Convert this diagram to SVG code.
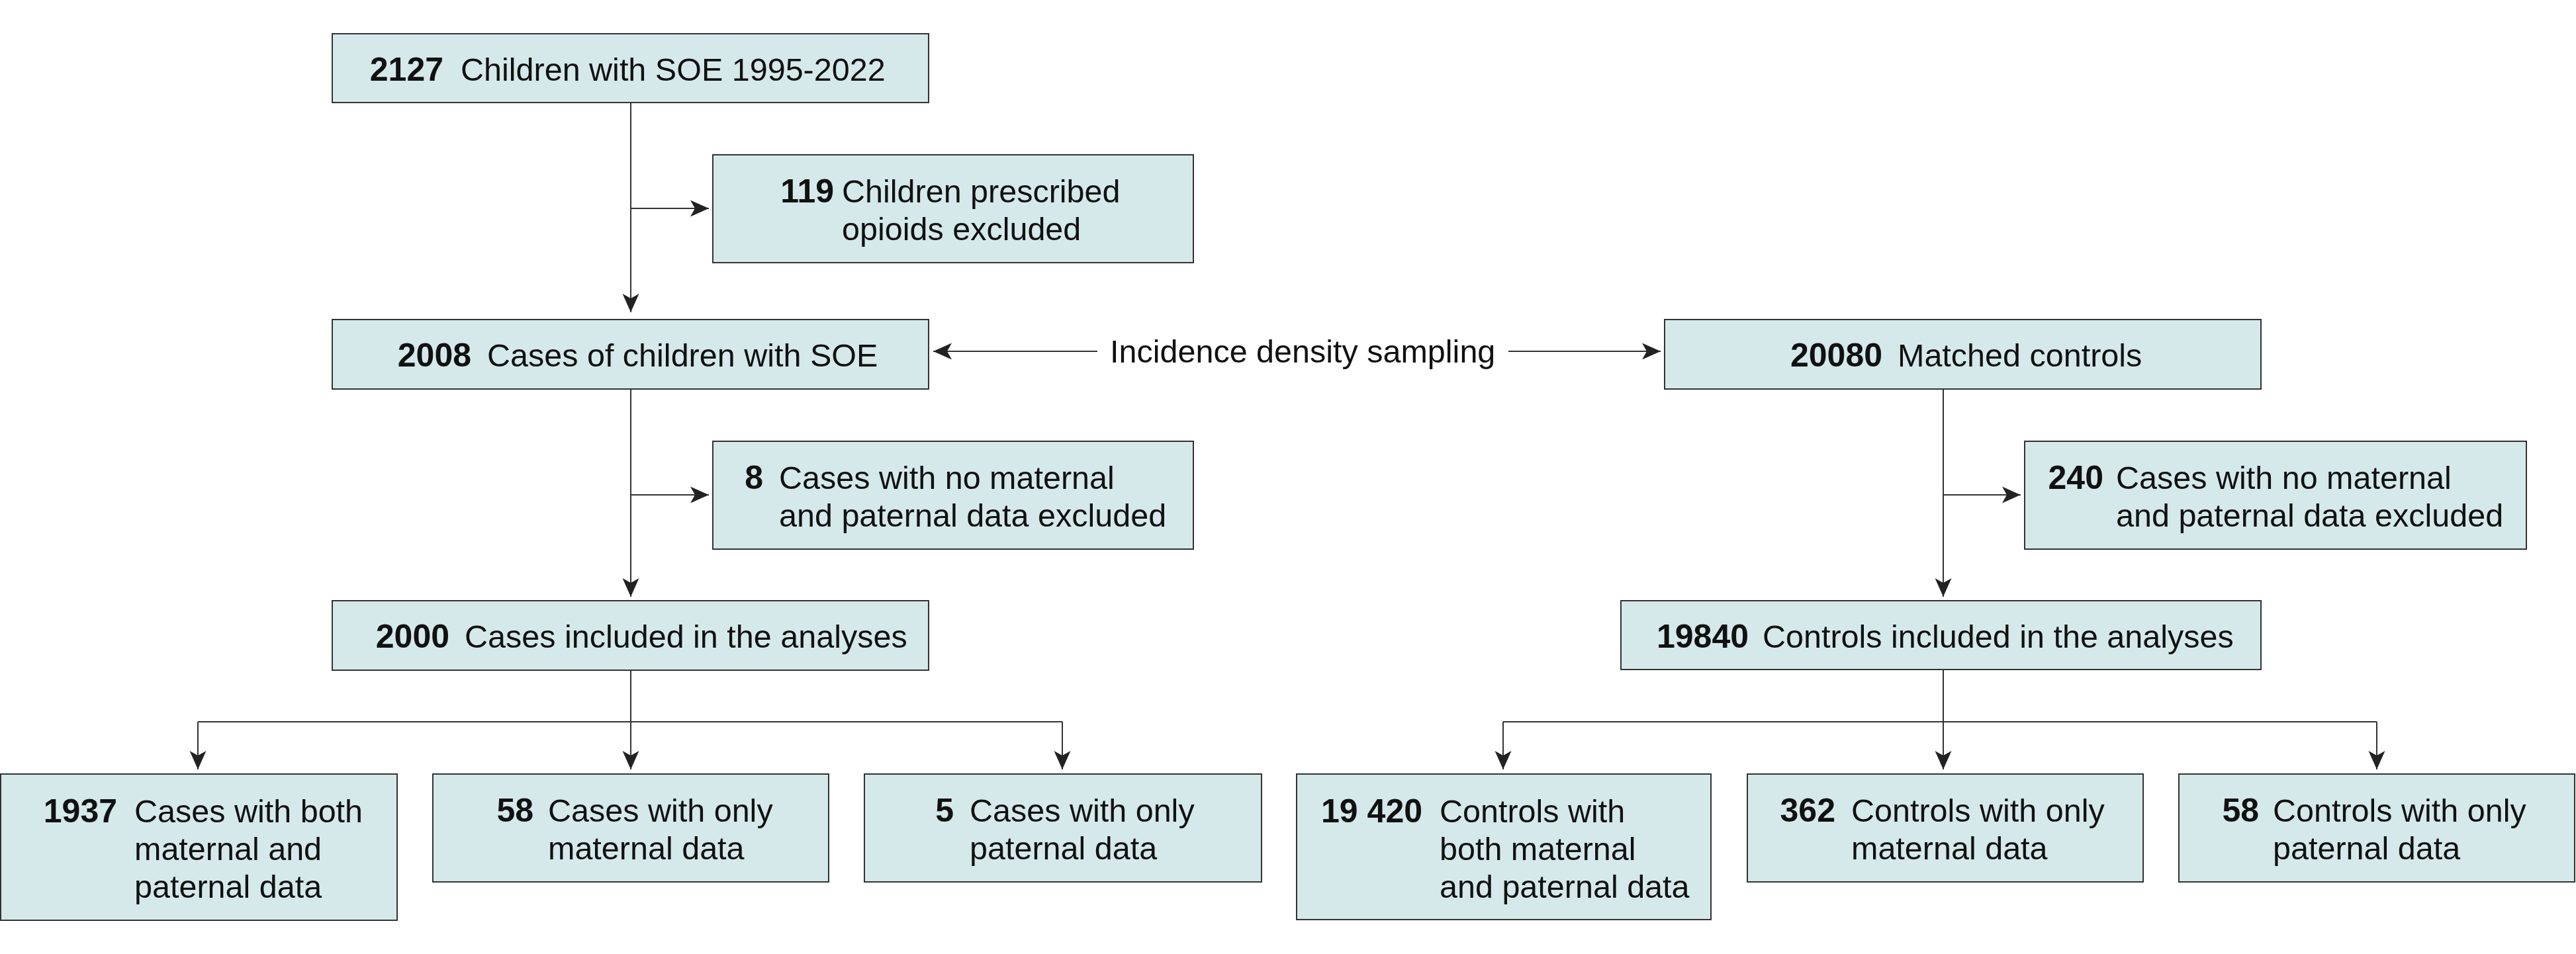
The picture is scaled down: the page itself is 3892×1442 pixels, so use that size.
<svg xmlns="http://www.w3.org/2000/svg" width="3892" height="1442" viewBox="0 0 3892 1442">
<defs>
<style>
.box{fill:#d5e9ea;stroke:#333;stroke-width:2}
text{font-family:"Liberation Sans",Arial,sans-serif;font-size:48.5px;fill:#111}
.num{font-weight:bold;font-size:50px;text-anchor:end}
.conn{fill:none;stroke:#333;stroke-width:2}
.arr{marker-end:url(#ah)}
</style>
<marker id="ah" markerUnits="userSpaceOnUse" viewBox="-30 -15 32 30" markerWidth="32" markerHeight="30" refX="0" refY="0" orient="auto">
<path d="M0,0 L-28,-12.5 L-21,0 L-28,12.5 Z" fill="#222"/>
</marker>
</defs>
<rect width="3892" height="1442" fill="#fff"/>
<g id="connectors">
<path class="conn arr" d="M953,155 V472"/>
<path class="conn arr" d="M953,315 H1071"/>
<path class="conn arr" d="M953,588 V902"/>
<path class="conn arr" d="M953,748 H1071"/>
<path class="conn arr" d="M1658,531 H1410"/>
<path class="conn arr" d="M2279,531 H2509"/>
<path class="conn arr" d="M953,1013 V1163"/>
<path class="conn" d="M299,1091 H1605"/>
<path class="conn arr" d="M299,1091 V1163"/>
<path class="conn arr" d="M1605,1091 V1163"/>
<path class="conn arr" d="M2936,588 V902"/>
<path class="conn arr" d="M2936,748 H3053"/>
<path class="conn arr" d="M2936,1012 V1163"/>
<path class="conn" d="M2271,1091 H3591"/>
<path class="conn arr" d="M2271,1091 V1163"/>
<path class="conn arr" d="M3591,1091 V1163"/>
</g>
<g id="n2127"><rect class="box" x="502" y="51" width="901" height="104"/><text class="num" x="670" y="122">2127</text><text x="696" y="122">Children with SOE 1995-2022</text></g>
<g id="n119"><rect class="box" x="1077" y="234" width="726" height="163"/><text class="num" x="1260" y="306">119</text><text x="1272" y="306">Children prescribed</text><text x="1272" y="363">opioids excluded</text></g>
<g id="n2008"><rect class="box" x="502" y="483" width="901" height="105"/><text class="num" x="712" y="554">2008</text><text x="736" y="554">Cases of children with SOE</text></g>
<g id="n8"><rect class="box" x="1077" y="667" width="726" height="163"/><text class="num" x="1153" y="739">8</text><text x="1177" y="739">Cases with no maternal</text><text x="1177" y="796">and paternal data excluded</text></g>
<g id="n2000"><rect class="box" x="502" y="908" width="901" height="105"/><text class="num" x="679" y="979">2000</text><text x="702" y="979">Cases included in the analyses</text></g>
<g id="n1937"><rect class="box" x="1" y="1170" width="599" height="221"/><text class="num" x="177" y="1243">1937</text><text x="203" y="1243">Cases with both</text><text x="203" y="1300">maternal and</text><text x="203" y="1357">paternal data</text></g>
<g id="n58cases"><rect class="box" x="654" y="1170" width="598" height="163"/><text class="num" x="806" y="1242">58</text><text x="828" y="1242">Cases with only</text><text x="828" y="1299">maternal data</text></g>
<g id="n5"><rect class="box" x="1306" y="1170" width="600" height="163"/><text class="num" x="1441" y="1242">5</text><text x="1465" y="1242">Cases with only</text><text x="1465" y="1299">paternal data</text></g>
<g id="sampling"><text x="1677" y="548">Incidence density sampling</text></g>
<g id="n20080"><rect class="box" x="2515" y="483" width="901" height="105"/><text class="num" x="2844" y="554">20080</text><text x="2867" y="554">Matched controls</text></g>
<g id="n240"><rect class="box" x="3059" y="667" width="758" height="163"/><text class="num" x="3178" y="739">240</text><text x="3197" y="739">Cases with no maternal</text><text x="3197" y="796">and paternal data excluded</text></g>
<g id="n19840"><rect class="box" x="2449" y="908" width="967" height="104"/><text class="num" x="2642" y="979">19840</text><text x="2663" y="979">Controls included in the analyses</text></g>
<g id="n19420"><rect class="box" x="1959" y="1170" width="626" height="220"/><text class="num" x="2149" y="1243">19 420</text><text x="2175" y="1243">Controls with</text><text x="2175" y="1300">both maternal</text><text x="2175" y="1357">and paternal data</text></g>
<g id="n362"><rect class="box" x="2640" y="1170" width="598" height="163"/><text class="num" x="2773" y="1242">362</text><text x="2797" y="1242">Controls with only</text><text x="2797" y="1299">maternal data</text></g>
<g id="n58controls"><rect class="box" x="3292" y="1170" width="598" height="163"/><text class="num" x="3413" y="1242">58</text><text x="3434" y="1242">Controls with only</text><text x="3434" y="1299">paternal data</text></g>
</svg>
